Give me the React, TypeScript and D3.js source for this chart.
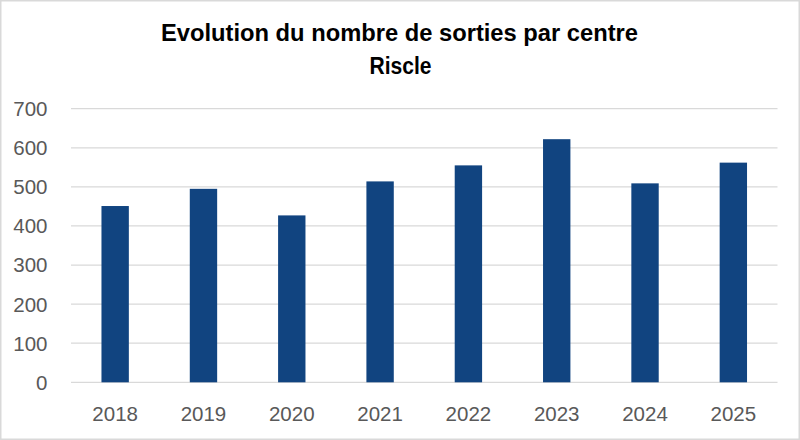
import React, { useEffect, useRef } from 'react';
import * as d3 from 'd3';

const years = ['2018', '2019', '2020', '2021', '2022', '2023', '2024', '2025'];
const sorties = [451, 495, 427, 514, 555, 622, 509, 562];
const yTicks = [0, 100, 200, 300, 400, 500, 600, 700];

const titleLine1 = 'Evolution du nombre de sorties par centre';
const titleLine2 = 'Riscle';

const W = 800;
const H = 440;

const App: React.FC = () => {
  const svgRef = useRef<SVGSVGElement>(null);

  useEffect(() => {
    document.body.style.margin = '0';
    if (!svgRef.current) return;

    const svg = d3.select(svgRef.current);
    svg.selectAll('*').remove();

    const plot = { left: 71, right: 777.5, top: 108.7, bottom: 382.3 };
    const font = '"Liberation Sans", Arial, sans-serif';

    // background + border
    svg.append('rect')
      .attr('x', 0.75)
      .attr('y', 0.75)
      .attr('width', W - 1.5)
      .attr('height', H - 1.5)
      .attr('fill', '#fff')
      .attr('stroke', '#d9d9d9')
      .attr('stroke-width', 1.5);

    const x = d3.scaleBand<string>()
      .domain(years)
      .range([plot.left, plot.right])
      .paddingInner(0.69)
      .paddingOuter(0.345);

    const y = d3.scaleLinear()
      .domain([0, 700])
      .range([plot.bottom, plot.top]);

    // Grid lines
    svg.append('g')
      .selectAll('line')
      .data(yTicks)
      .enter()
      .append('line')
      .attr('x1', plot.left)
      .attr('x2', plot.right)
      .attr('y1', d => y(d))
      .attr('y2', d => y(d))
      .attr('stroke', '#d9d9d9')
      .attr('stroke-width', 1.2);

    // Y labels
    svg.append('g')
      .selectAll('text')
      .data(yTicks)
      .enter()
      .append('text')
      .attr('x', 47.5)
      .attr('y', d => y(d))
      .attr('dy', '0.36em')
      .attr('text-anchor', 'end')
      .attr('fill', '#595959')
      .style('font-family', font)
      .style('font-size', '20.5px')
      .text(d => String(d));

    // Bars
    svg.append('g')
      .selectAll('rect')
      .data(years.map((yr, i) => ({ yr, v: sorties[i] })))
      .enter()
      .append('rect')
      .attr('x', d => x(d.yr) as number)
      .attr('y', d => y(d.v))
      .attr('width', x.bandwidth())
      .attr('height', d => y(0) - y(d.v))
      .attr('fill', '#114480');

    // X labels
    svg.append('g')
      .selectAll('text')
      .data(years)
      .enter()
      .append('text')
      .attr('x', d => (x(d) as number) + x.bandwidth() / 2)
      .attr('y', 421)
      .attr('text-anchor', 'middle')
      .attr('fill', '#595959')
      .style('font-family', font)
      .style('font-size', '20.5px')
      .text(d => d);

    // Title
    svg.append('text')
      .attr('x', 399.5)
      .attr('y', 41)
      .attr('text-anchor', 'middle')
      .attr('textLength', 477)
      .attr('lengthAdjust', 'spacingAndGlyphs')
      .attr('fill', '#000')
      .style('font-family', font)
      .style('font-weight', 'bold')
      .style('font-size', '23px')
      .text(titleLine1);

    svg.append('text')
      .attr('x', 400.5)
      .attr('y', 74)
      .attr('text-anchor', 'middle')
      .attr('textLength', 62)
      .attr('lengthAdjust', 'spacingAndGlyphs')
      .attr('fill', '#000')
      .style('font-family', font)
      .style('font-weight', 'bold')
      .style('font-size', '23px')
      .text(titleLine2);
  }, []);

  return (
    <svg ref={svgRef} width={W} height={H} style={{ display: 'block' }} />
  );
};

export default App;
